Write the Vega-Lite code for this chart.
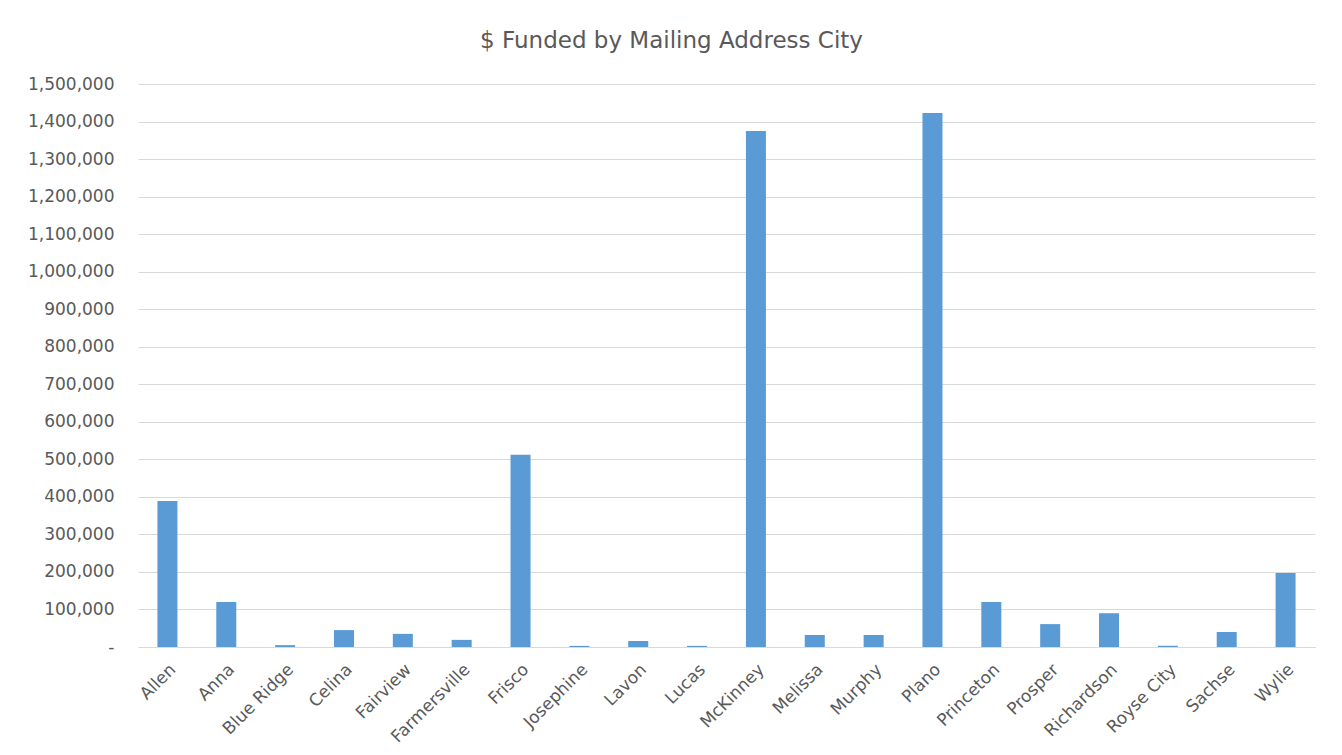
{
  "$schema": "https://vega.github.io/schema/vega-lite/v6.json",
  "width": 1177,
  "height": 563,
  "autosize": {"type": "none"},
  "padding": {"left": 138, "top": 84, "right": 27, "bottom": 108},
  "background": "white",
  "title": {
    "text": "$ Funded by Mailing Address City",
    "font": "DejaVu Sans",
    "fontSize": 23,
    "fontWeight": "normal",
    "color": "#595959",
    "anchor": "middle",
    "frame": "group",
    "dx": -55,
    "offset": 22
  },
  "data": {
    "values": [
      {"city": "Allen", "funded": 389000},
      {"city": "Anna", "funded": 120000},
      {"city": "Blue Ridge", "funded": 5000},
      {"city": "Celina", "funded": 45000},
      {"city": "Fairview", "funded": 35000},
      {"city": "Farmersville", "funded": 19000},
      {"city": "Frisco", "funded": 512000},
      {"city": "Josephine", "funded": 3000},
      {"city": "Lavon", "funded": 16000},
      {"city": "Lucas", "funded": 3000},
      {"city": "McKinney", "funded": 1375000},
      {"city": "Melissa", "funded": 32000},
      {"city": "Murphy", "funded": 32000},
      {"city": "Plano", "funded": 1423000},
      {"city": "Princeton", "funded": 120000},
      {"city": "Prosper", "funded": 61000},
      {"city": "Richardson", "funded": 90000},
      {"city": "Royse City", "funded": 3000},
      {"city": "Sachse", "funded": 40000},
      {"city": "Wylie", "funded": 197000}
    ]
  },
  "mark": {"type": "bar", "color": "#5B9BD5"},
  "encoding": {
    "x": {
      "field": "city",
      "type": "nominal",
      "sort": null,
      "scale": {"paddingInner": 0.66, "paddingOuter": 0.33},
      "axis": {
        "title": null,
        "labelAngle": -45,
        "labelFont": "DejaVu Sans",
        "labelFontSize": 17,
        "labelColor": "#595959",
        "ticks": false,
        "domainColor": "#d9d9d9",
        "labelPadding": 14
      }
    },
    "y": {
      "field": "funded",
      "type": "quantitative",
      "scale": {"domain": [0, 1500000]},
      "axis": {
        "title": null,
        "values": [0, 100000, 200000, 300000, 400000, 500000, 600000, 700000, 800000, 900000, 1000000, 1100000, 1200000, 1300000, 1400000, 1500000],
        "labelExpr": "datum.value == 0 ? '-' : format(datum.value, ',')",
        "labelFont": "DejaVu Sans",
        "labelFontSize": 17,
        "labelColor": "#595959",
        "labelPadding": 24,
        "ticks": false,
        "domain": false,
        "gridColor": "#d9d9d9",
        "gridWidth": 1
      }
    }
  },
  "config": {
    "view": {"stroke": null}
  }
}
